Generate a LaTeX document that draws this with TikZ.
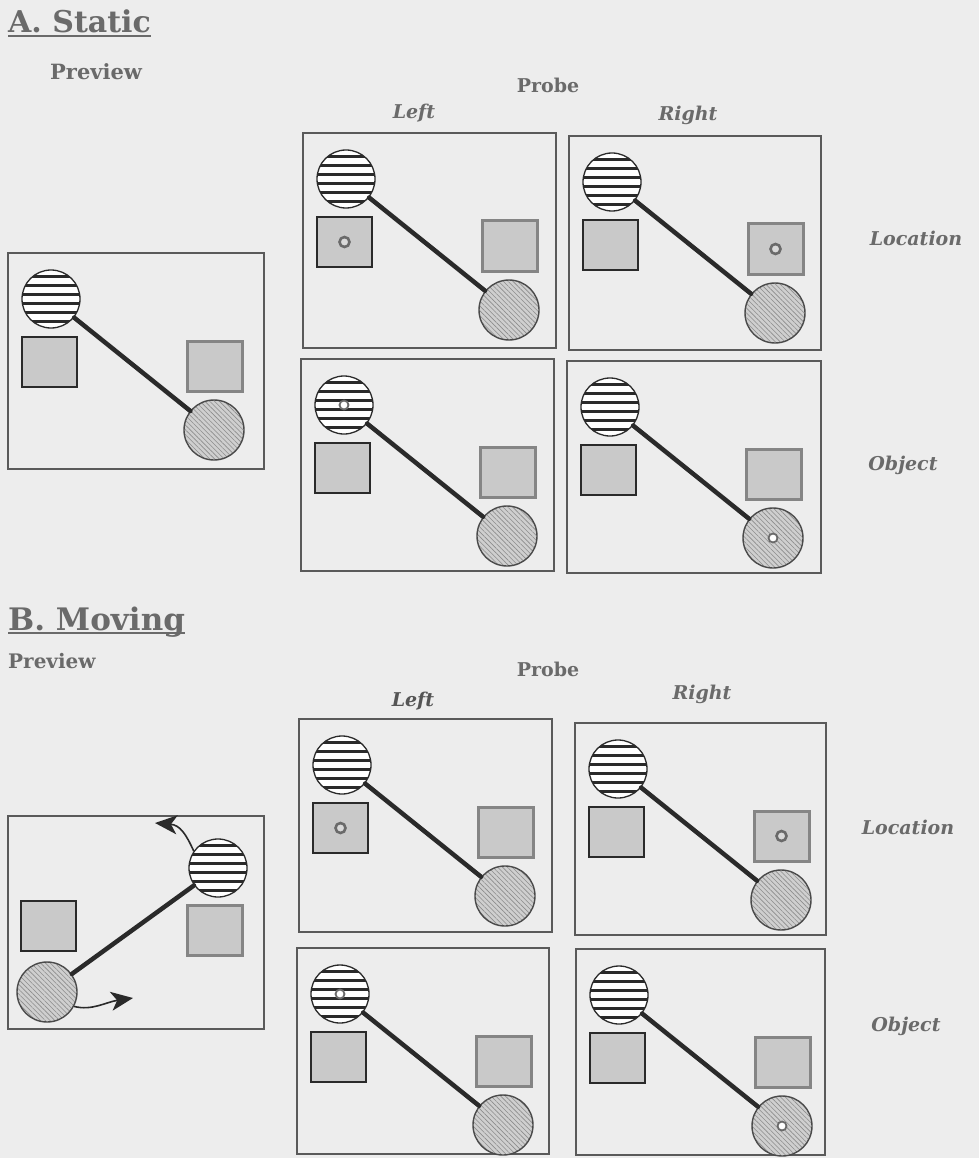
\documentclass[tikz,border=0pt]{standalone}
\usepackage{fontspec}
\setmainfont{DejaVu Serif}
\usetikzlibrary{patterns.meta,arrows.meta}
\definecolor{bg}{HTML}{EDEDED}
\definecolor{txt}{HTML}{6A6A6A}
\definecolor{ink}{HTML}{2A2A2A}
\definecolor{frame}{HTML}{5A5A5A}
\definecolor{sqfill}{HTML}{C9C9C9}
\definecolor{rsqline}{HTML}{858585}
\definecolor{hatchfill}{HTML}{CFCFCF}
\definecolor{hatchline}{HTML}{8C8C8C}
\tikzset{
  panelbox/.style={rectangle,draw=frame,line width=1.8pt,inner sep=0pt,anchor=north west},
  stripecirc/.style={circle,minimum size=58pt,inner sep=0pt,draw=ink,line width=1.3pt,fill=white},
  stripeline/.style={line width=2.3pt,draw=ink},
  hatchcirc/.style={circle,minimum size=60pt,inner sep=0pt,draw=ink!85,line width=1.4pt,
    preaction={fill=hatchfill},pattern={Lines[angle=-45,distance=3.4pt,line width=0.6pt]},pattern color=hatchline},
  lsq/.style={rectangle,minimum width=55pt,minimum height=50pt,inner sep=0pt,draw=ink,line width=1.3pt,fill=sqfill},
  rsq/.style={rectangle,minimum width=55pt,minimum height=50pt,inner sep=0pt,draw=rsqline,line width=3pt,fill=sqfill},
  rod/.style={line width=4.5pt,draw=ink,line cap=round},
  locdot/.style={circle,minimum size=10pt,inner sep=0pt,draw=txt,line width=2.6pt,fill=sqfill!70},
  objdot/.style={circle,minimum size=9pt,inner sep=0pt,draw=txt,line width=1.8pt,fill=white},
  heading/.style={text=txt,inner sep=0pt},
  sublabel/.style={text=txt,font=\fontsize{19}{22}\selectfont\bfseries,inner sep=0pt},
  sidelabel/.style={text=txt,font=\fontsize{19}{22}\selectfont\bfseries\itshape,inner sep=0pt},
  movearrow/.style={line width=1.6pt,draw=ink,-{Stealth[length=22pt,width=19pt,inset=6pt]}}
}
\newcommand\stripesin[1]{%
  \begin{scope}
    \clip (#1.center) circle[radius=29pt];
    \foreach \k in {-22.5,-13.5,-4.5,4.5,13.5,22.5}
      \draw[stripeline] ([yshift=\k pt,xshift=-31pt]#1.center) -- ([yshift=\k pt,xshift=31pt]#1.center);
  \end{scope}}
\newcommand\drawpanel[5]{%
  \begin{scope}[shift={(#2,#3)}]
    \node[panelbox,minimum width=#4pt,minimum height=#5pt] (#1box) at (0,0) {};
    \node[stripecirc] (#1s) at (44,47) {};
    \stripesin{#1s}
    \node[lsq] (#1l) at (42.5,110) {};
    \node[rsq] (#1r) at (207.5,114) {};
    \node[hatchcirc] (#1h) at (207,178) {};
    \draw[rod] (#1s) -- (#1h);
  \end{scope}}
\begin{document}
\begin{tikzpicture}[x=1pt,y=-1pt]
\useasboundingbox (0,0) rectangle (979,1158);
\fill[bg] (0,0) rectangle (979,1158);

% ---------- A. Static ----------
\node[heading,anchor=base west,font=\fontsize{30}{33}\selectfont\bfseries] (ta) at (8,33) {A. Static};
\draw[txt,line width=2.4pt] ([yshift=-3pt]ta.base west) -- ([yshift=-3pt]ta.base east);
\node[sublabel,anchor=base west,font=\fontsize{21}{24}\selectfont\bfseries] (apv) at (50,80) {Preview};
\node[sublabel,anchor=base] (apr) at (548,93) {Probe};
\node[sidelabel,anchor=base] (ale) at (414,119) {Left};
\node[sidelabel,anchor=base] (ari) at (688,121) {Right};
\node[sidelabel,anchor=base] (alo) at (916,246) {Location};
\node[sidelabel,anchor=base] (aob) at (903,470) {Object};

\drawpanel{AP}{7}{252}{256}{216}
\drawpanel{A1}{302}{132}{253}{215}
\drawpanel{A2}{568}{135}{252}{214}
\drawpanel{A3}{300}{358}{253}{212}
\drawpanel{A4}{566}{360}{254}{212}
\node[locdot] (A1d) at (A1l.center) {};
\node[locdot] (A2d) at (A2r.center) {};
\node[objdot] (A3d) at (A3s.center) {};
\node[objdot] (A4d) at (A4h.center) {};

% ---------- B. Moving ----------
\node[heading,anchor=base west,font=\fontsize{31}{34}\selectfont\bfseries] (tb) at (8,630) {B. Moving};
\draw[txt,line width=2.4pt] ([yshift=-3pt]tb.base west) -- ([yshift=-3pt]tb.base east);
\node[sublabel,anchor=base west,font=\fontsize{20}{23}\selectfont\bfseries] (bpv) at (8,668) {Preview};
\node[sublabel,anchor=base] (bpr) at (548,676) {Probe};
\node[sidelabel,anchor=base,text=ink!80] (ble) at (413,706) {Left};
\node[sidelabel,anchor=base] (bri) at (702,699) {Right};
\node[sidelabel,anchor=base] (blo) at (908,834) {Location};
\node[sidelabel,anchor=base] (bob) at (906,1031) {Object};

% moving preview
\node[panelbox,minimum width=256pt,minimum height=213pt] (BPbox) at (7,815) {};
\node[lsq] (BPl) at (48.5,926) {};
\node[rsq] (BPr) at (215,930.5) {};
\node[stripecirc] (BPs) at (218,868) {};
\stripesin{BPs}
\node[hatchcirc] (BPh) at (47,992) {};
\draw[rod] (BPh) -- (BPs);
\coordinate (BPt1) at (155,823);
\coordinate (BPt2) at (133,998);
\draw[movearrow] (BPs.145) .. controls (186,834) and (180,825) .. (BPt1);
\draw[movearrow] (BPh.-28) .. controls (92,1011) and (106,1002) .. (BPt2);

\drawpanel{B1}{298}{718}{253}{213}
\drawpanel{B2}{574}{722}{251}{212}
\drawpanel{B3}{296}{947}{252}{206}
\drawpanel{B4}{575}{948}{249}{206}
\node[locdot] (B1d) at (B1l.center) {};
\node[locdot] (B2d) at (B2r.center) {};
\node[objdot] (B3d) at (B3s.center) {};
\node[objdot] (B4d) at (B4h.center) {};
\end{tikzpicture}
\end{document}
